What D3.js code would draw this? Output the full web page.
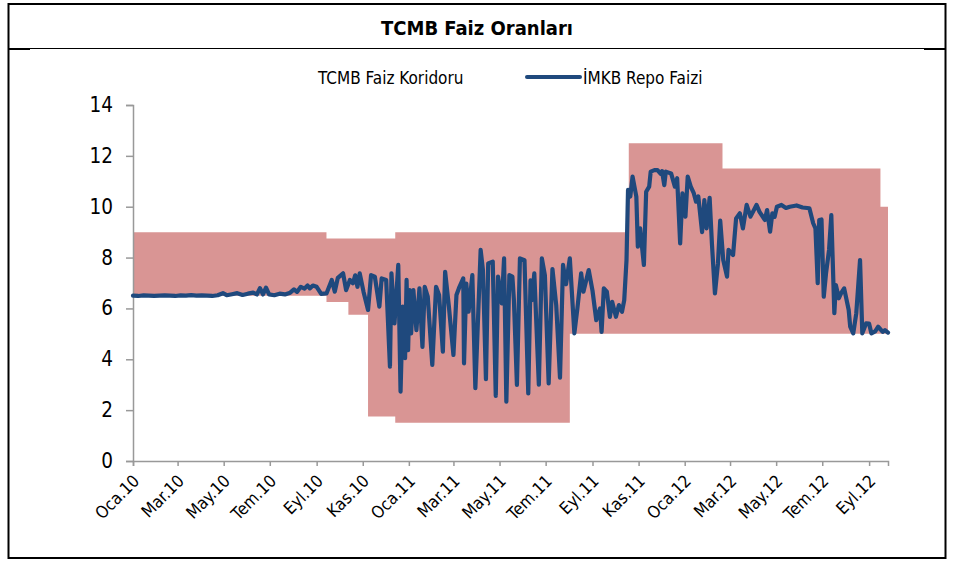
<!DOCTYPE html>
<html><head><meta charset="utf-8">
<script src="https://cdn.jsdelivr.net/npm/d3@7"></script>
<style>
html,body{margin:0;padding:0;background:#fff;}
svg{display:block;font-family:"DejaVu Sans Condensed","DejaVu Sans",Verdana,sans-serif;font-stretch:condensed;}
</style></head>
<body>
<svg id="chart" width="953" height="561"></svg>
<script>
const title = "TCMB Faiz Oranları";
const legendLabels = ["TCMB Faiz Koridoru", "İMKB Repo Faizi"];

const yTicks = [0, 2, 4, 6, 8, 10, 12, 14];
const xTickDates = ["2010-01-01","2010-03-01","2010-05-01","2010-07-01","2010-09-01","2010-11-01",
  "2011-01-01","2011-03-01","2011-05-01","2011-07-01","2011-09-01","2011-11-01",
  "2012-01-01","2012-03-01","2012-05-01","2012-07-01","2012-09-01"];
const xTickLabels = ["Oca.10","Mar.10","May.10","Tem.10","Eyl.10","Kas.10",
  "Oca.11","Mar.11","May.11","Tem.11","Eyl.11","Kas.11",
  "Oca.12","Mar.12","May.12","Tem.12","Eyl.12"];

// TCMB corridor (step changes)
const corridorDates = ["2010-01-01","2010-09-14","2010-10-13","2010-11-08","2010-12-14","2011-08-02","2011-10-19","2012-02-20","2012-09-16","2012-09-26"];
const corridorLower = [6.5, 6.25, 5.75, 1.75, 1.5, 5.0, 5.0, 5.0, 5.0, 5.0];
const corridorUpper = [9, 8.75, 8.75, 8.75, 9, 9, 12.5, 11.5, 10, 10];

// ISE repo rate
const repoDates = [
"2010-01-01","2010-01-08","2010-01-15","2010-01-22","2010-01-29","2010-02-05","2010-02-12","2010-02-19","2010-02-26",
"2010-03-05","2010-03-12","2010-03-19","2010-03-26","2010-04-02","2010-04-09","2010-04-16","2010-04-23","2010-04-30",
"2010-05-05","2010-05-12","2010-05-19","2010-05-26","2010-06-02","2010-06-09","2010-06-14","2010-06-18","2010-06-22",
"2010-06-26","2010-06-30","2010-07-07","2010-07-14","2010-07-21","2010-07-28","2010-08-02","2010-08-06","2010-08-11",
"2010-08-16","2010-08-20","2010-08-23","2010-08-27","2010-09-01","2010-09-07","2010-09-14","2010-09-21","2010-09-25",
"2010-09-29","2010-10-06","2010-10-10","2010-10-15","2010-10-19","2010-10-22","2010-10-25","2010-10-28","2010-11-02",
"2010-11-08","2010-11-12","2010-11-17","2010-11-23","2010-11-26","2010-12-02","2010-12-07","2010-12-09","2010-12-13",
"2010-12-18","2010-12-21","2010-12-24","2010-12-27","2010-12-29","2010-12-31","2011-01-02","2011-01-04","2011-01-07",
"2011-01-11","2011-01-15","2011-01-19","2011-01-22","2011-01-26","2011-02-01","2011-02-06","2011-02-10","2011-02-15",
"2011-02-18","2011-02-23","2011-03-01","2011-03-05","2011-03-09","2011-03-14","2011-03-15","2011-03-18","2011-03-21",
"2011-03-26","2011-03-30","2011-04-06","2011-04-09","2011-04-13","2011-04-16","2011-04-22","2011-04-26","2011-04-29",
"2011-05-04","2011-05-07","2011-05-10","2011-05-14","2011-05-18","2011-05-20","2011-05-24","2011-05-28","2011-06-03",
"2011-06-08","2011-06-11","2011-06-13","2011-06-16","2011-06-22","2011-06-26","2011-06-30","2011-07-05","2011-07-10",
"2011-07-15","2011-07-20","2011-07-24","2011-07-28","2011-08-02","2011-08-08","2011-08-12","2011-08-17","2011-08-20",
"2011-08-27","2011-09-01","2011-09-06","2011-09-11","2011-09-13","2011-09-16","2011-09-20","2011-09-24","2011-09-27",
"2011-10-02","2011-10-06","2011-10-10","2011-10-13","2011-10-16","2011-10-18","2011-10-21","2011-10-24","2011-10-29",
"2011-10-31","2011-11-03","2011-11-08","2011-11-11","2011-11-15","2011-11-17","2011-11-22","2011-11-26","2011-11-30",
"2011-12-02","2011-12-05","2011-12-07","2011-12-14","2011-12-19","2011-12-22","2011-12-26","2011-12-29","2012-01-02",
"2012-01-05","2012-01-09","2012-01-13","2012-01-16","2012-01-19","2012-01-24","2012-01-27","2012-01-30","2012-02-03",
"2012-02-06","2012-02-10","2012-02-14","2012-02-17","2012-02-21","2012-02-26","2012-02-28","2012-03-05","2012-03-09",
"2012-03-14","2012-03-18","2012-03-23","2012-03-28","2012-04-05","2012-04-09","2012-04-16","2012-04-19","2012-04-23",
"2012-04-26","2012-04-29","2012-05-02","2012-05-08","2012-05-14","2012-05-19","2012-05-28","2012-06-05","2012-06-14",
"2012-06-19","2012-06-22","2012-06-25","2012-06-27","2012-06-30","2012-07-03","2012-07-06","2012-07-10","2012-07-13",
"2012-07-17","2012-07-19","2012-07-23","2012-07-26","2012-07-30","2012-08-05","2012-08-07","2012-08-11","2012-08-15",
"2012-08-20","2012-08-23","2012-08-28","2012-09-01","2012-09-04","2012-09-09","2012-09-13","2012-09-19","2012-09-22",
"2012-09-26"];
const repoRates = [
6.50,6.49,6.51,6.50,6.49,6.50,6.51,6.50,6.49,
6.51,6.50,6.52,6.50,6.51,6.50,6.49,6.52,6.60,
6.52,6.56,6.60,6.53,6.58,6.62,6.55,6.80,6.55,
6.82,6.55,6.52,6.58,6.55,6.62,6.75,6.65,6.85,
6.78,6.90,6.79,6.90,6.85,6.57,6.59,7.12,6.66,
7.20,7.38,6.72,7.12,6.99,7.30,6.85,7.38,6.66,
5.94,7.31,7.25,6.07,7.18,7.12,3.71,7.38,5.41,
7.71,2.73,6.07,4.04,7.12,4.36,6.72,5.02,6.72,
5.15,6.79,4.49,6.85,6.46,3.78,6.85,6.53,4.30,
7.44,6.07,4.17,6.53,6.85,7.18,3.84,6.98,5.87,
7.31,2.86,8.30,7.51,3.22,7.77,7.84,2.56,7.25,
6.20,7.97,2.33,7.31,7.25,6.33,2.99,7.97,7.90,
2.66,7.10,6.33,7.38,3.00,7.97,7.30,3.05,7.55,
6.13,3.28,7.71,6.95,7.97,5.02,6.00,7.38,6.66,
7.51,6.70,5.54,6.00,5.08,6.79,6.66,5.67,6.26,
5.67,6.13,5.87,6.33,7.90,10.66,10.40,11.18,10.40,
8.43,9.15,7.71,10.59,10.79,11.38,11.44,11.44,11.30,
11.40,10.85,11.38,11.31,10.79,11.12,8.56,10.53,9.61,
11.18,10.79,10.53,10.20,10.40,9.00,10.26,9.15,10.35,
8.56,6.59,7.77,9.45,7.90,7.25,8.30,8.10,9.54,
9.74,9.15,10.07,9.61,10.07,9.80,9.48,9.87,9.02,
9.74,9.60,10.00,10.07,9.95,10.00,10.05,9.97,9.94,
9.35,9.15,6.99,9.48,9.50,6.46,7.38,8.30,9.67,
5.81,6.92,6.40,6.60,6.79,5.94,5.28,5.02,5.80,
7.90,5.02,5.41,5.40,5.02,5.10,5.28,5.08,5.15,
5.05];

const FONT = "'DejaVu Sans Condensed', 'DejaVu Sans', Verdana, sans-serif";
const parse = d3.timeParse("%Y-%m-%d");
const svg = d3.select("#chart");

// frame
svg.append("rect").attr("x", 8.5).attr("y", 4).attr("width", 937).attr("height", 554)
  .attr("fill", "none").attr("stroke", "#000").attr("stroke-width", 2);
svg.append("line").attr("x1", 8).attr("x2", 946).attr("y1", 48.5).attr("y2", 48.5)
  .attr("stroke", "#000").attr("stroke-width", 1);
svg.append("line").attr("x1", 8).attr("x2", 30).attr("y1", 49).attr("y2", 49)
  .attr("stroke", "#000").attr("stroke-width", 2);
svg.append("line").attr("x1", 924).attr("x2", 946).attr("y1", 49).attr("y2", 49)
  .attr("stroke", "#000").attr("stroke-width", 2);

svg.append("text").attr("x", 477).attr("y", 35).attr("text-anchor", "middle")
  .attr("font-weight", "bold").attr("font-size", "20px").attr("fill", "#000").text(title);

const x = d3.scaleTime().domain([parse("2010-01-01"), parse("2012-09-26")]).range([133, 888]);
const y = d3.scaleLinear().domain([0, 14]).range([461, 105]);

// corridor band
const corr = corridorDates.map((d, i) => ({date: parse(d), lo: corridorLower[i], hi: corridorUpper[i]}));
svg.append("path").datum(corr)
  .attr("fill", "#d99594")
  .attr("d", d3.area().curve(d3.curveStepAfter).x(d => x(d.date)).y0(d => y(d.lo)).y1(d => y(d.hi)));

// axes
const yAxis = svg.append("g").attr("transform", "translate(133,0)")
  .call(d3.axisLeft(y).tickValues(yTicks).tickSize(7).tickPadding(13).tickFormat(d3.format("d")));
const xAxis = svg.append("g").attr("transform", "translate(0,461)")
  .call(d3.axisBottom(x).tickValues(xTickDates.map(parse)).tickSize(5)
    .tickFormat((d, i) => xTickLabels[i]));
[yAxis, xAxis].forEach(g => {
  g.select(".domain").attr("stroke", "#999").attr("stroke-width", 1.5);
  g.selectAll(".tick line").attr("stroke", "#999").attr("stroke-width", 1.5);
  g.selectAll("text").attr("fill", "#000").attr("font-family", FONT);
});
yAxis.selectAll("text").attr("font-size", "20.5px");
xAxis.selectAll("text").attr("font-size", "17px")
  .attr("text-anchor", "end").attr("y", 0).attr("dy", 0)
  .attr("transform", "translate(7,21) rotate(-45)");

// repo line
const repo = repoDates.map((d, i) => ({date: parse(d), v: repoRates[i]}));
svg.append("path").datum(repo)
  .attr("fill", "none").attr("stroke", "#1f497d").attr("stroke-width", 4.2)
  .attr("stroke-linejoin", "round").attr("stroke-linecap", "round")
  .attr("d", d3.line().x(d => x(d.date)).y(d => y(d.v)));

// legend
svg.append("text").attr("x", 318).attr("y", 83.5).attr("font-size", "17px").attr("fill", "#000").text(legendLabels[0]);
svg.append("line").attr("x1", 527).attr("x2", 580).attr("y1", 77).attr("y2", 77)
  .attr("stroke", "#1f497d").attr("stroke-width", 4).attr("stroke-linecap", "round");
svg.append("text").attr("x", 583).attr("y", 83.5).attr("font-size", "17px").attr("fill", "#000").text(legendLabels[1]);
</script>
</body></html>
